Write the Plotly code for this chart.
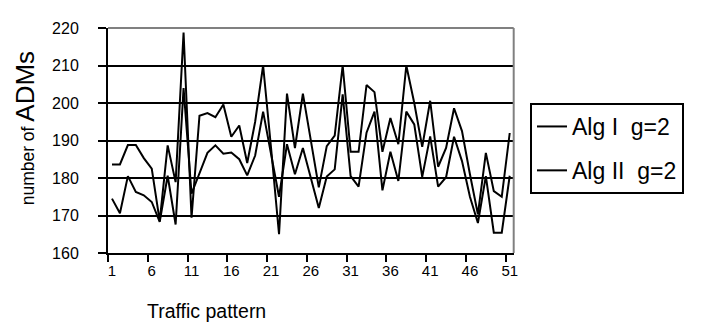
import plotly.graph_objects as go

# ---------------- data ----------------
patterns = list(range(1, 52))

alg1_g2 = [183.6, 183.6, 188.8, 188.8, 185.3, 182.5, 168.5, 188.7, 178.9, 218.8,
           169.4, 196.6, 197.3, 196.2, 199.6, 191.0, 194.0, 184.0, 195.0, 210.0,
           188.0, 165.0, 202.5, 188.0, 202.5, 190.0, 177.5, 188.5, 191.3, 210.0,
           187.0, 187.0, 204.8, 202.9, 187.0, 196.0, 189.0, 210.0, 200.0, 188.3,
           200.6, 183.0, 188.0, 198.6, 192.5, 181.0, 170.3, 186.7, 176.5, 175.0,
           192.0]

alg2_g2 = [174.5, 170.6, 180.5, 176.3, 175.4, 173.6, 168.3, 180.6, 167.6, 204.0,
           175.8, 181.5, 186.7, 188.7, 186.5, 186.8, 185.0, 180.7, 186.0, 197.7,
           186.0, 175.0, 189.0, 181.0, 188.0, 180.0, 172.0, 180.4, 182.3, 202.3,
           180.5, 177.7, 192.1, 197.7, 176.7, 187.0, 179.2, 197.7, 194.3, 180.3,
           191.1, 177.7, 180.2, 191.0, 184.5, 175.0, 168.0, 180.5, 165.4, 165.4,
           180.6]

series_names = ["Alg I  g=2", "Alg II  g=2"]
x_tick_labels = [1, 6, 11, 16, 21, 26, 31, 36, 41, 46, 51]
x_tick_marks = [0.5, 5.5, 10.5, 15.5, 20.5, 25.5, 30.5, 35.5, 40.5, 45.5, 50.5]
y_ticks = [160, 170, 180, 190, 200, 210, 220]

FONT = "Liberation Sans, Arial, sans-serif"
W, H = 713, 326

fig = go.Figure()
for name, vals in zip(series_names, [alg1_g2, alg2_g2]):
    fig.add_trace(go.Scatter(
        x=patterns, y=vals, mode="lines", name=name, legendgroup=name,
        line=dict(color="black", width=2),
    ))

fig.update_layout(
    width=W, height=H,
    margin=dict(l=100, r=201, t=13, b=81),
    paper_bgcolor="white", plot_bgcolor="white",
    font=dict(family=FONT, color="black", size=15),
    showlegend=True,
    legend=dict(
        x=522 / W, y=1 - 95 / H,
        xref="container", yref="container",
        xanchor="left", yanchor="top",
        font=dict(family=FONT, size=23, color="black"),
        bordercolor="black", borderwidth=2, bgcolor="white",
        traceorder="grouped", tracegroupgap=11,
        itemwidth=30, entrywidth=200, entrywidthmode="pixels",
    ),
    xaxis=dict(
        range=[0.5, 51.5], showgrid=False, zeroline=False,
        tickvals=x_tick_labels, ticktext=[str(v) for v in x_tick_labels],
        ticks="", ticklabelstandoff=3,
        tickfont=dict(size=15),
        showline=True, linecolor="black", linewidth=2,
        minor=dict(tickvals=x_tick_marks, ticks="outside", ticklen=7,
                   tickcolor="black", tickwidth=1.5),
    ),
    yaxis=dict(
        range=[160, 220], tickvals=y_ticks, showgrid=True,
        gridcolor="black", gridwidth=1.5, zeroline=False,
        ticks="outside", ticklen=8, tickcolor="black", tickwidth=1.5,
        ticklabelstandoff=16, tickfont=dict(size=16),
        showline=True, linecolor="black", linewidth=2,
    ),
)

# plot-area border (top and right), gray
fig.add_shape(type="line", xref="paper", yref="paper", x0=0, x1=1, y0=1, y1=1,
              line=dict(color="#808080", width=2))
fig.add_shape(type="line", xref="paper", yref="paper", x0=1, x1=1, y0=0, y1=1,
              line=dict(color="#808080", width=2))

# axis titles
fig.add_annotation(
    text="number of <span style='font-size:26px'>ADMs</span>",
    xref="paper", yref="paper", x=-0.206, y=0.556, textangle=-90,
    showarrow=False, font=dict(family=FONT, size=17.5, color="black"),
    xanchor="center", yanchor="middle",
)
fig.add_annotation(
    text="Traffic pattern", xref="paper", yref="paper",
    x=(200 - 100) / 412, y=-(305 - 245) / 232,
    showarrow=False, font=dict(family=FONT, size=19.5, color="black"),
    xanchor="center", yanchor="middle",
)

fig.write_html("out.html")
